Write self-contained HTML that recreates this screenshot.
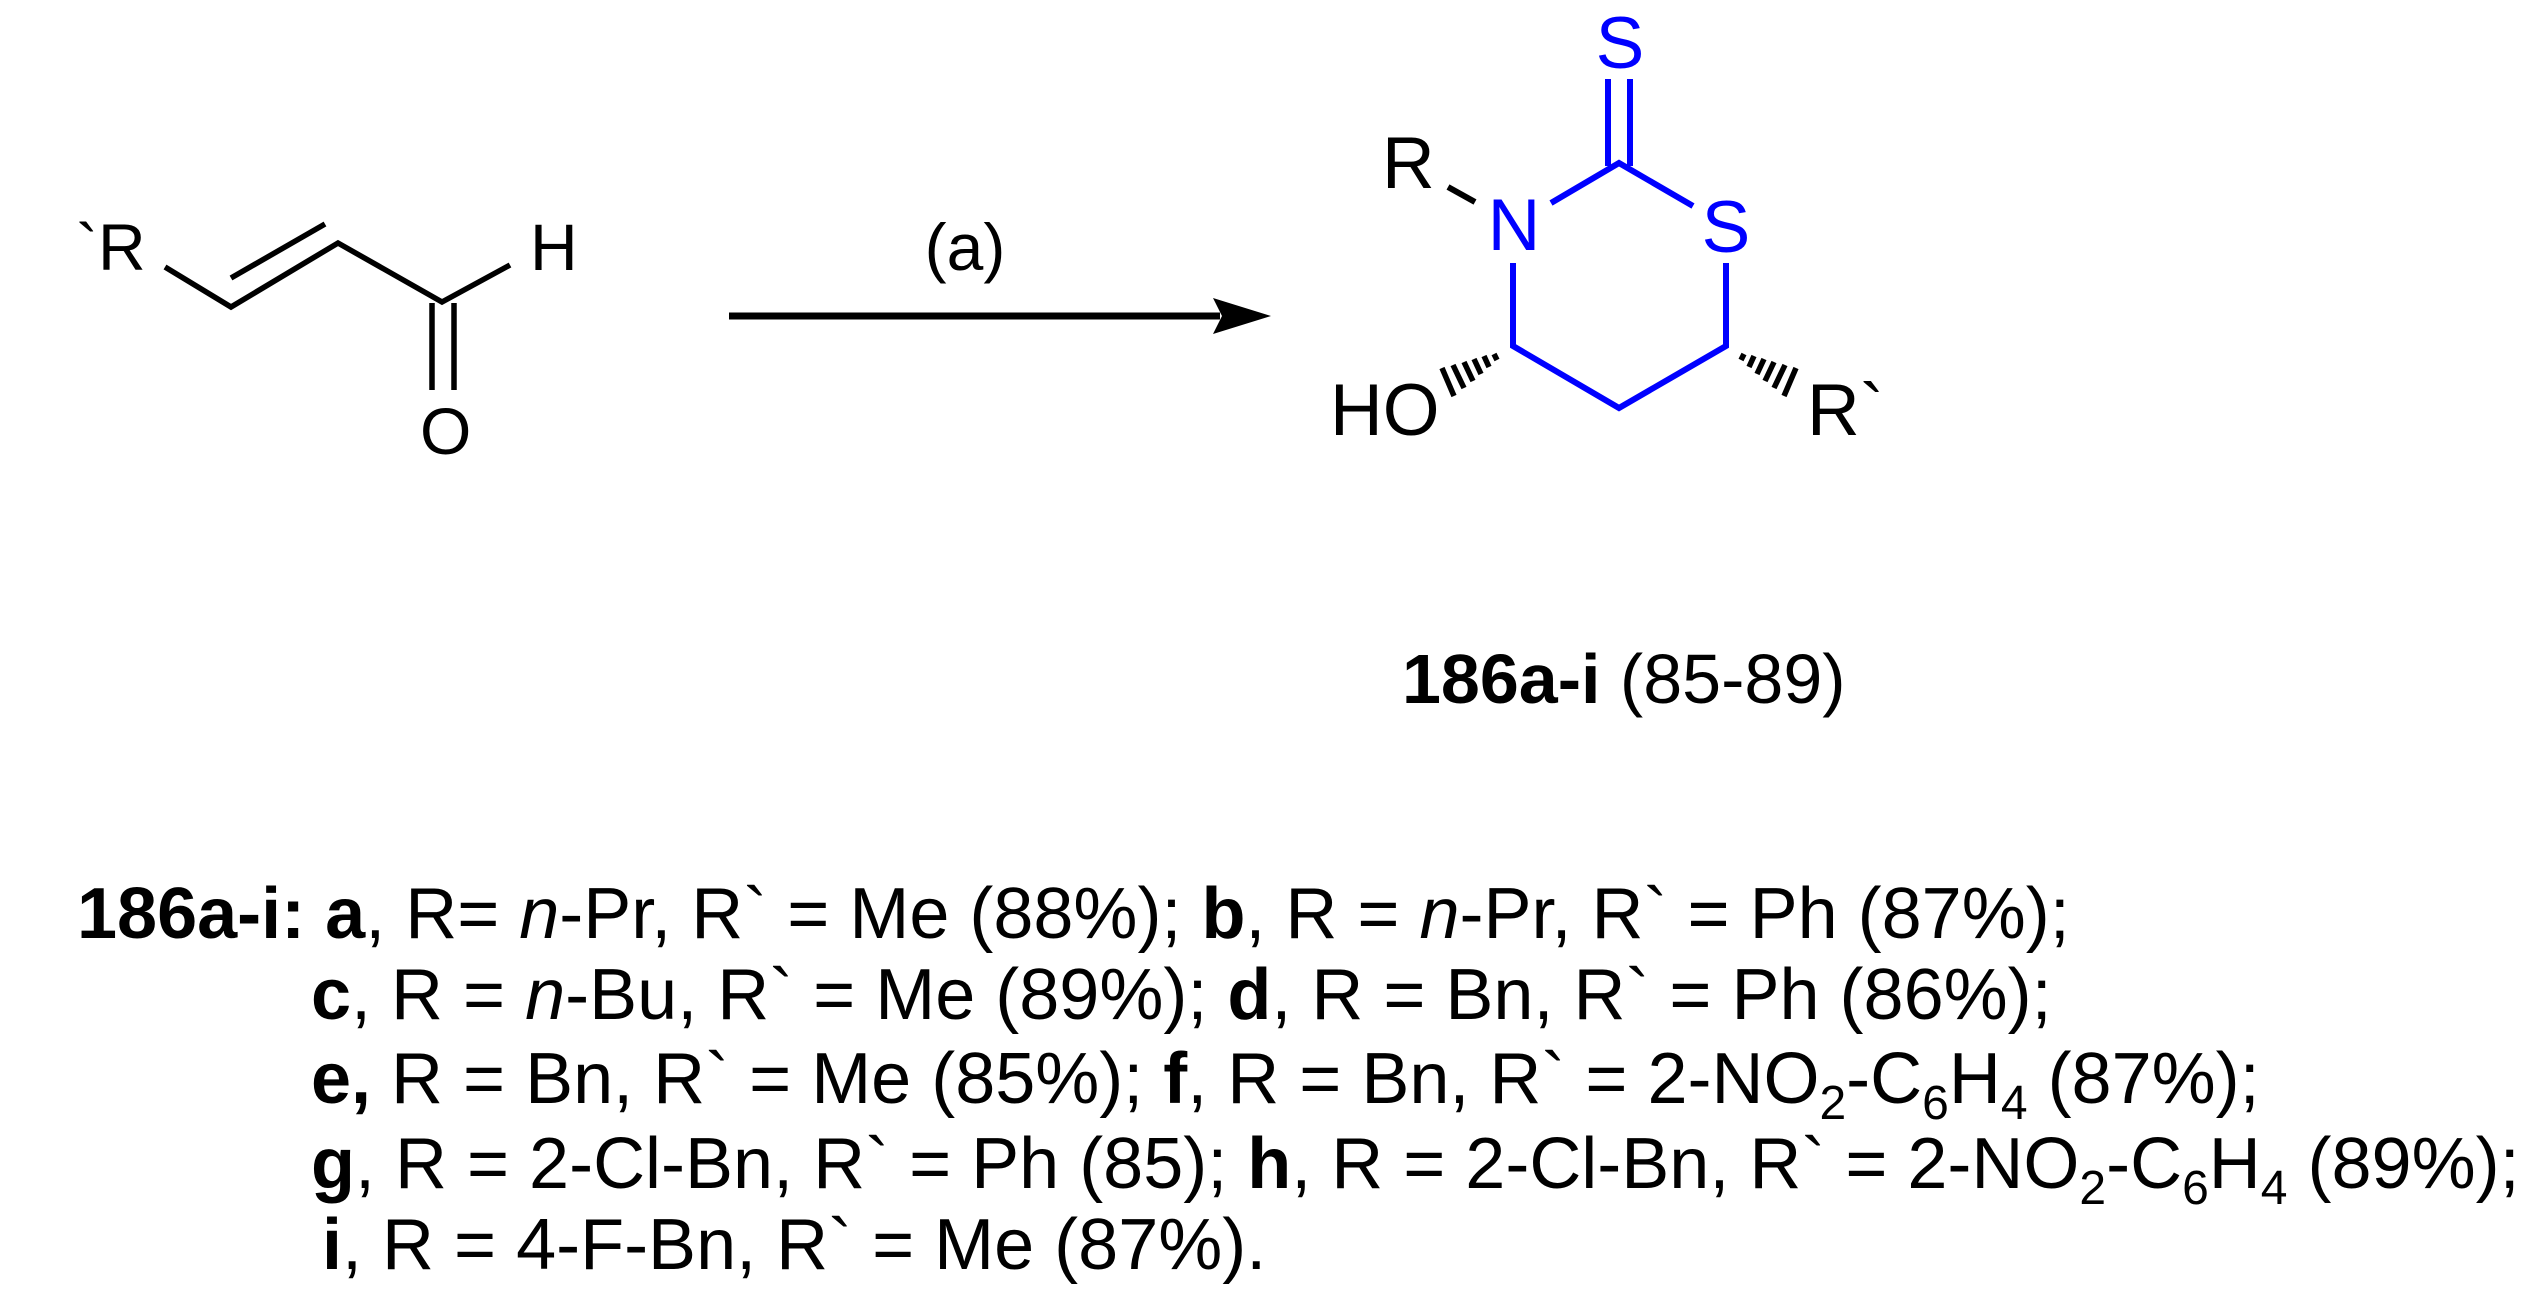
<!DOCTYPE html>
<html><head><meta charset="utf-8"><style>
html,body{margin:0;padding:0;background:#fff}
body{width:2528px;height:1299px;position:relative;overflow:hidden;font-family:"Liberation Sans",Arial,sans-serif;color:#000}
.ln{position:absolute;font-size:72px;white-space:nowrap;line-height:1}
sub{font-size:48px;vertical-align:-16px;line-height:0}
svg{position:absolute;left:0;top:0}
</style></head><body>
<svg width="2528" height="1299" viewBox="0 0 2528 1299">
<g stroke="#000" stroke-width="5.5" fill="none" stroke-linecap="butt">
<polyline points="165,267 231,307 338,243 442,302 510,265"/>
<line x1="231" y1="278" x2="325" y2="224"/>
<line x1="432" y1="303" x2="432" y2="390"/>
<line x1="454" y1="303" x2="454" y2="390"/>
<line x1="729" y1="316" x2="1220" y2="316" stroke-width="7"/>
<line x1="1448" y1="187" x2="1475" y2="202" stroke-width="6"/>
</g>
<polygon points="1213,298 1271,316 1213,334 1222,316" fill="#000"/>
<g font-family="Liberation Sans, Arial, sans-serif" font-size="66" fill="#000">
<text x="76" y="270">`R</text>
<text x="530" y="270">H</text>
<text x="420" y="454">O</text>
<text x="965" y="270" text-anchor="middle">(a)</text>
</g>
<g font-family="Liberation Sans, Arial, sans-serif" font-size="73" fill="#000">
<text x="1382" y="188">R</text>
<text x="1330" y="435">HO</text>
<text x="1807" y="435">R`</text>
</g>
<g font-family="Liberation Sans, Arial, sans-serif" font-size="73" fill="#0000ff">
<text x="1620" y="68" text-anchor="middle">S</text>
<text x="1514" y="250" text-anchor="middle">N</text>
<text x="1726" y="252" text-anchor="middle">S</text>
</g>
<g stroke="#0000ff" stroke-width="6" fill="none" stroke-linejoin="miter">
<line x1="1608" y1="79" x2="1608" y2="166"/>
<line x1="1630" y1="79" x2="1630" y2="166"/>
<polyline points="1551,203 1619,163 1693,206"/>
<polyline points="1513,263 1513,346 1619,408 1726,346 1726,263"/>
</g>
<g stroke="#000" stroke-width="5.5">
<line x1="1494" y1="354" x2="1497" y2="360"/>
<line x1="1484" y1="356" x2="1489" y2="367"/>
<line x1="1474" y1="359" x2="1481" y2="374"/>
<line x1="1464" y1="362" x2="1473" y2="381"/>
<line x1="1453" y1="365" x2="1464" y2="388"/>
<line x1="1442" y1="368" x2="1454" y2="396"/>
<line x1="1744" y1="354" x2="1741" y2="360"/>
<line x1="1754" y1="356" x2="1749" y2="367"/>
<line x1="1764" y1="359" x2="1757" y2="374"/>
<line x1="1774" y1="362" x2="1765" y2="381"/>
<line x1="1785" y1="365" x2="1774" y2="388"/>
<line x1="1796" y1="368" x2="1784" y2="396"/>
</g>
</svg>
<div class="ln" style="left:1402px;top:644px;font-size:70px"><b>186a-i</b> (85-89)</div>
<div class="ln" style="left:77px;top:878px"><b>186a-i: a</b>, R= <i>n</i>-Pr, R` = Me (88%); <b>b</b>, R = <i>n</i>-Pr, R` = Ph (87%);</div>
<div class="ln" style="left:311px;top:959px"><b>c</b>, R = <i>n</i>-Bu, R` = Me (89%); <b>d</b>, R = Bn, R` = Ph (86%);</div>
<div class="ln" style="left:311px;top:1043px"><b>e,</b> R = Bn, R` = Me (85%); <b>f</b>, R = Bn, R` = 2-NO<sub>2</sub>-C<sub>6</sub>H<sub>4</sub> (87%);</div>
<div class="ln" style="left:311px;top:1128px"><b>g</b>, R = 2-Cl-Bn, R` = Ph (85); <b>h</b>, R = 2-Cl-Bn, R` = 2-NO<sub>2</sub>-C<sub>6</sub>H<sub>4</sub> (89%);</div>
<div class="ln" style="left:322px;top:1209px"><b>i</b>, R = 4-F-Bn, R` = Me (87%).</div>
</body></html>
